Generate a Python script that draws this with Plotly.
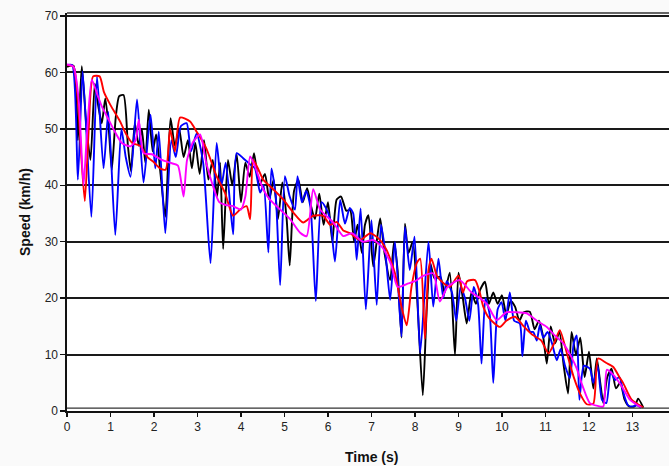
import plotly.graph_objects as go

# ---- data (time in s, speed in km/h) ----
t_black = [0.00, 0.15, 0.25, 0.34, 0.45, 0.54, 0.64, 0.72, 0.80, 0.88, 0.96, 1.03, 1.12, 1.20, 1.30, 1.40, 1.47, 1.56, 1.65, 1.72,
           1.80, 1.88, 1.97, 2.05, 2.15, 2.26, 2.38, 2.48, 2.58, 2.68, 2.78, 2.87, 2.95, 3.05, 3.15, 3.25, 3.35, 3.45, 3.52, 3.59,
           3.70, 3.80, 3.90, 4.00, 4.10, 4.20, 4.30, 4.42, 4.55, 4.65, 4.75, 4.85, 4.95, 5.05, 5.12, 5.22, 5.32, 5.42, 5.52, 5.62,
           5.70, 5.80, 5.90, 6.00, 6.10, 6.20, 6.30, 6.42, 6.51, 6.60, 6.68, 6.78, 6.85, 6.93, 7.04, 7.12, 7.20, 7.30, 7.43, 7.52,
           7.60, 7.69, 7.77, 7.85, 7.95, 8.05, 8.18, 8.27, 8.35, 8.45, 8.58, 8.68, 8.80, 8.92, 9.00, 9.10, 9.19, 9.30, 9.40, 9.50,
           9.61, 9.70, 9.80, 9.90, 10.00, 10.10, 10.20, 10.30, 10.40, 10.50, 10.64, 10.75, 10.85, 10.95, 11.03, 11.12, 11.22, 11.32,
           11.42, 11.52, 11.60, 11.70, 11.80, 11.90, 12.00, 12.10, 12.18, 12.26, 12.33, 12.42, 12.52, 12.62, 12.72, 12.82, 12.92,
           13.05, 13.13, 13.25]
v_black = [61.0, 61.2, 48, 61.1, 50, 44.5, 58, 54, 51, 55.4, 50, 42.7, 52, 55.8, 56, 47, 42.5, 51, 47, 50,
           44, 53.4, 46, 49, 42, 34.4, 51.9, 47, 50, 45, 48, 43, 47.5, 42, 48, 41, 44.5, 38, 44, 28.7,
           44.5, 40, 45.5, 37, 44, 41.5, 45.7, 40, 42, 37.5, 41, 34, 40.5, 34, 25.8, 39, 41, 37, 39.5, 36,
           34, 38.5, 33, 37, 30, 37.5, 38, 35.5, 35.6, 30, 33, 28, 33, 34.7, 25.6, 30, 34.1, 28, 23.2, 30,
           25, 13, 33.2, 28, 30, 20, 2.8, 18, 26.2, 23.5, 23.8, 21, 24.5, 9.9, 24.5, 20, 15.5, 21, 19, 21.5,
           22.9, 19, 21, 19, 20.5, 17, 19.5, 18.5, 16, 17.5, 17.6, 14.5, 16, 13, 8.4, 15, 12, 14,
           8, 3.1, 14, 10, 13, 6, 10.5, 4, 9.3, 5, 1.4, 6, 7.5, 4, 5, 2, 0.8,
           0.8, 2.2, 0.6]

t_blue = [0.00, 0.12, 0.25, 0.36, 0.56, 0.69, 0.84, 0.95, 1.11, 1.25, 1.35, 1.46, 1.61, 1.76, 1.92, 2.03, 2.11, 2.26, 2.40, 2.50,
          2.62, 2.75, 2.85, 2.98, 3.13, 3.30, 3.44, 3.55, 3.65, 3.82, 3.90, 4.05, 4.21, 4.32, 4.44, 4.52, 4.63, 4.70, 4.80, 4.90,
          5.01, 5.12, 5.24, 5.30, 5.40, 5.50, 5.60, 5.72, 5.85, 5.95, 6.05, 6.16, 6.28, 6.39, 6.50, 6.58, 6.66, 6.75, 6.87, 7.00,
          7.12, 7.22, 7.32, 7.43, 7.54, 7.69, 7.77, 7.88, 7.99, 8.12, 8.31, 8.42, 8.54, 8.65, 8.73, 8.85, 8.95, 9.05, 9.15, 9.25,
          9.35, 9.45, 9.53, 9.62, 9.72, 9.80, 9.90, 9.99, 10.08, 10.18, 10.28, 10.41, 10.47, 10.55, 10.65, 10.72, 10.80, 10.87,
          10.95, 11.05, 11.15, 11.26, 11.35, 11.45, 11.56, 11.65, 11.72, 11.78, 11.88, 12.02, 12.10, 12.20, 12.30, 12.40, 12.50,
          12.60, 12.70, 12.80, 12.90, 13.00, 13.10, 13.20]
v_blue = [61.3, 61.3, 41.0, 60.2, 34.4, 59.3, 43.0, 53, 31.2, 50, 45, 41.5, 55.2, 40.5, 52.5, 43, 49.5, 31.5, 48, 45,
          50.5, 51, 46, 49.2, 44, 26.2, 47.5, 40, 44, 31.3, 45.7, 44.8, 43.7, 43, 38.7, 40, 28.1, 43, 38, 22.3,
          41.6, 38, 35.7, 41.6, 37, 39, 36, 19.5, 37, 36, 34, 26.5, 37.4, 33.2, 36, 35, 26.8, 35.9, 18, 33.8,
          18.8, 33, 28, 19.7, 30, 13.2, 32.6, 25, 30.9, 10.3, 30, 18.5, 27, 20, 23, 21, 16, 22, 20, 16,
          22, 19, 8.4, 20, 17, 5, 18, 19.3, 16, 21, 16, 15.5, 9.7, 16, 14, 14, 12.5, 15.2,
          13, 14, 12, 9, 11, 8, 5.8, 12, 13.4, 2, 8, 7.5, 5, 8, 2, 1.4, 7,
          5.5, 6, 3, 1, 0.8, 1, 0.6]

t_red = [0.00, 0.15, 0.25, 0.33, 0.41, 0.50, 0.60, 0.75, 0.85, 1.00, 1.22, 1.37, 1.50, 1.68, 1.85, 1.98, 2.14, 2.27, 2.37, 2.48,
         2.60, 2.83, 2.98, 3.20, 3.44, 3.63, 3.82, 3.98, 4.13, 4.21, 4.28, 4.40, 4.51, 4.74, 4.97, 5.20, 5.43, 5.66, 5.89, 6.05,
         6.20, 6.35, 6.51, 6.74, 6.97, 7.16, 7.35, 7.54, 7.69, 7.81, 7.92, 8.04, 8.12, 8.23, 8.31, 8.38, 8.50, 8.58, 8.80, 9.00,
         9.10, 9.20, 9.38, 9.49, 9.57, 9.70, 9.95, 10.10, 10.30, 10.50, 10.70, 10.90, 11.07, 11.20, 11.33, 11.50, 11.65, 11.80,
         11.95, 12.10, 12.21, 12.40, 12.56, 12.70, 12.79, 12.98, 13.25]
v_red = [61.3, 61, 55, 45, 37.2, 50, 59.3, 59.3, 56.5, 54.2, 51.3, 48.9, 47.5, 47, 45, 44.2, 43, 42.8, 50, 46,
         52, 51.3, 49.5, 46.6, 41.6, 38.7, 34.6, 35.7, 36.3, 34, 44.5, 42.8, 41, 39.3, 37.5, 35.2, 33.4, 34.6, 34.6, 33,
         33.5, 32, 31.5, 30.3, 31.5, 30.6, 28.5, 24.4, 18.5, 15.2, 22, 26.2, 27, 12.8, 25, 27, 24, 23.2, 22, 24,
         21, 23, 23.2, 21, 18.5, 16.5, 14.9, 16, 16.7, 15, 13.5, 12.5, 10.2, 12, 14.3, 10, 6, 3,
         1.2, 1.3, 9.3, 8.5, 7.8, 6, 4.9, 2, 0.6]

t_magenta = [0.00, 0.15, 0.27, 0.38, 0.45, 0.57, 0.70, 0.80, 0.96, 1.10, 1.26, 1.46, 1.58, 1.65, 1.76, 1.95, 2.18, 2.41, 2.55, 2.68,
             2.76, 2.90, 3.06, 3.20, 3.35, 3.50, 3.65, 3.82, 4.00, 4.10, 4.21, 4.32, 4.51, 4.66, 4.90, 5.13, 5.36, 5.51, 5.66, 5.82,
             6.12, 6.35, 6.55, 6.80, 7.04, 7.25, 7.45, 7.60, 7.85, 8.00, 8.20, 8.42, 8.57, 8.75, 9.03, 9.30, 9.50, 9.65, 9.88, 10.10,
             10.30, 10.57, 10.80, 11.03, 11.20, 11.41, 11.60, 11.72, 11.85, 12.02, 12.20, 12.33, 12.41, 12.55, 12.70, 12.82, 12.94, 13.20]
v_magenta = [61.4, 61, 55, 40, 48, 58.7, 56, 54, 51.6, 49.5, 47.5, 46.9, 48, 51.6, 45.7, 45.5, 44.5, 43.9, 43.5, 38,
             44.5, 47.7, 49, 44, 40, 37, 36.5, 36.3, 35.7, 38, 45.1, 43.4, 39.3, 37.5, 35.7, 34, 31.6, 31, 39.3, 35.7,
             33.4, 31, 31.5, 30, 30.3, 29, 26, 22, 22.6, 23, 24, 24.4, 19.4, 22, 23.2, 21, 20, 19, 16.1, 17.5,
             17.5, 17.3, 16, 14.9, 13.5, 12, 9.5, 7.5, 4.5, 1.4, 0.9, 0.8, 7.3, 6.5, 5, 3.5, 2, 0.6]

x_ticks = list(range(0, 14))
y_ticks = list(range(0, 80, 10))

series = [
    (t_black, v_black, "#000000"),
    (t_blue, v_blue, "#0000ff"),
    (t_red, v_red, "#ff0000"),
    (t_magenta, v_magenta, "#ff00ff"),
]

fig = go.Figure()
for t, v, c in series:
    fig.add_trace(go.Scatter(x=t, y=v, mode="lines",
                             line=dict(color=c, width=1.9, shape="spline", smoothing=0.6),
                             showlegend=False, hoverinfo="skip"))

font = "Arial, Liberation Sans, sans-serif"
fig.update_layout(
    width=669, height=466,
    margin=dict(l=67, r=0, t=13, b=55, autoexpand=False),
    paper_bgcolor="#fafafa",
    plot_bgcolor="#ffffff",
    font=dict(family=font, size=12, color="#222222"),
    showlegend=False,
    shapes=[
        dict(type="line", xref="paper", yref="paper", x0=0, x1=1, y0=1, y1=1,
             line=dict(color="#333333", width=1.6)),
        dict(type="line", xref="paper", yref="y", x0=0, x1=1, y0=0.5, y1=0.5,
             line=dict(color="#333333", width=1.3)),
    ],
    annotations=[
        dict(text="<b>Time (s)</b>", xref="x", yref="paper", x=7.0, y=-0.1156,
             xanchor="center", yanchor="middle", showarrow=False,
             font=dict(family=font, size=14, color="#111111")),
        dict(text="<b>Speed (km/h)</b>", xref="paper", yref="paper", x=-0.0698, y=0.5,
             xanchor="center", yanchor="middle", showarrow=False, textangle=-90,
             font=dict(family=font, size=14, color="#111111")),
    ],
)
fig.update_xaxes(
    range=[0, 13.84], tickmode="array", tickvals=x_ticks, ticktext=[str(v) for v in x_ticks],
    showgrid=False, zeroline=False, showline=True, linecolor="#111111", linewidth=1.6,
    ticks="outside", ticklen=4, tickwidth=1.5, tickcolor="#111111", automargin=False,
    tickfont=dict(size=12, color="#222222"),
)
fig.update_yaxes(
    range=[0, 70.53], tickmode="array", tickvals=y_ticks, ticktext=[str(v) for v in y_ticks],
    showgrid=True, gridcolor="#1a1a1a", gridwidth=2, zeroline=False,
    showline=True, linecolor="#111111", linewidth=1.6, automargin=False,
    ticks="outside", ticklen=5, tickwidth=1.5, tickcolor="#111111",
    tickfont=dict(size=12, color="#222222"),
)

fig.write_html(
    "out.html",
    config={"displayModeBar": False, "staticPlot": True},
    post_script="document.documentElement.style.margin='0';document.body.style.margin='0';"
                "document.body.style.overflow='hidden';",
)
